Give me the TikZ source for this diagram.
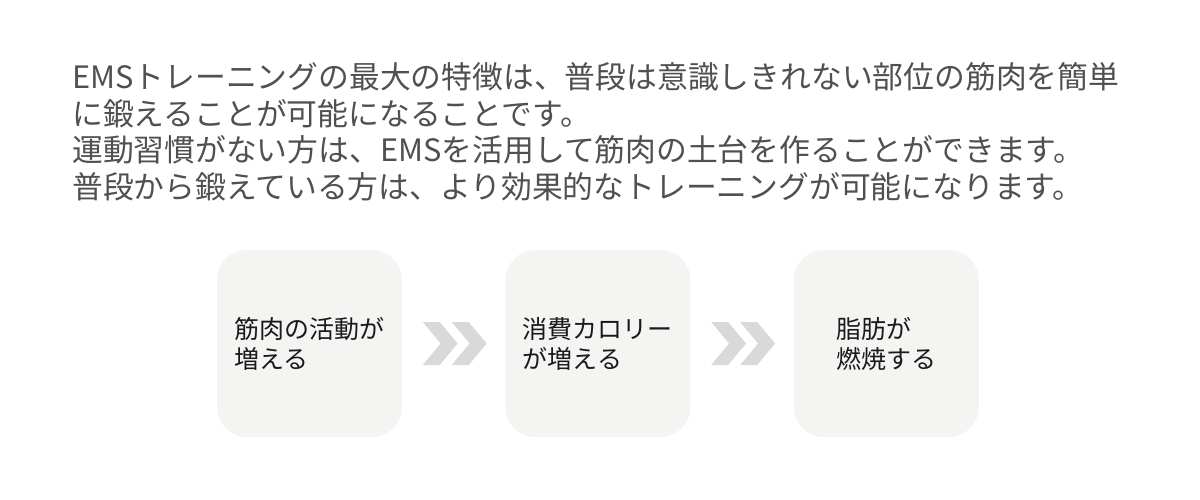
\documentclass[tikz,border=0pt]{standalone}
\usepackage{fontspec}
\setmainfont{Noto Sans CJK JP}
\newfontfamily\headfont{Noto Sans CJK JP}
\usetikzlibrary{positioning}
\definecolor{boxgray}{HTML}{F4F4F2}
\definecolor{arrowgray}{HTML}{D9D9D9}
\definecolor{headgray}{HTML}{505050}
\definecolor{textdark}{HTML}{1A1A1A}

\begin{document}
\begin{tikzpicture}[x=1pt,y=-1pt]
\tikzstyle{every node}+=[inner sep=0pt]
\tikzstyle{headline}=[anchor=base west, text=headgray, font=\headfont\fontsize{30.8}{36.7}\selectfont]
\tikzstyle{stepbox}=[fill=boxgray, rounded corners=30pt, minimum width=185pt, minimum height=187pt, align=left, text=textdark, font=\fontsize{25}{30}\selectfont]
\tikzstyle{chevron}=[fill=arrowgray]
\fill [white] (0,0) rectangle (1200,500);
\useasboundingbox (0,0) rectangle (1200,500);
% header
\node [headline] (h1) at (72,88.5) {EMSトレーニングの最大の特徴は、普段は意識しきれない部位の筋肉を簡単};
\node [headline] (h2) at (72,125.2) {に鍛えることが可能になることです。};
\node [headline] (h3) at (72,161.9) {運動習慣がない方は、EMSを活用して筋肉の土台を作ることができます。};
\node [headline] (h4) at (72,198.6) {普段から鍛えている方は、より効果的なトレーニングが可能になります。};
% steps
\node [stepbox] (s1) at (309.5,343.5) {筋肉の活動が\\増える};
\node [stepbox, right=103pt of s1] (s2) {消費カロリー\\が増える};
\node [stepbox, right=103pt of s2] (s3) {脂肪が\\燃焼する};
\path (s1.east) -- (s2.west) coordinate [pos=0.5] (g1);
\path (s2.east) -- (s3.west) coordinate [pos=0.5] (g2);
% chevrons
\foreach \g in {g1,g2}
  \foreach \dx in {0,29}
    \fill [chevron, shift={(\g)}, xshift=\dx] (-31,-21.5) -- (-14,-21.5) -- (4,0) -- (-14,21.5) -- (-31,21.5) -- (-13,0) -- cycle;
\end{tikzpicture}
\end{document}
